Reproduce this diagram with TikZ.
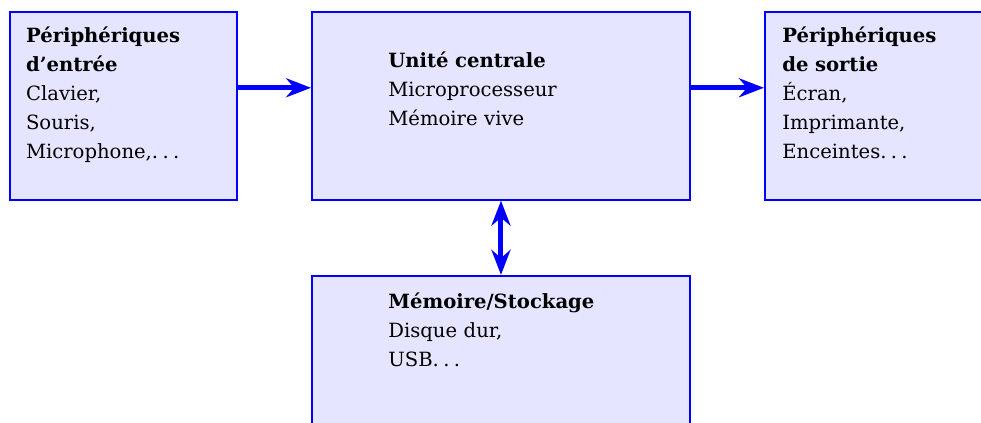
\documentclass[tikz,border=0pt]{standalone}
\usepackage{fontspec}
\setmainfont{DejaVu Serif}
\usetikzlibrary{arrows.meta}
\newcommand{\pointsusp}{.\kern0.22em.\kern0.22em.}

\begin{document}
\begin{tikzpicture}[>={Stealth[length=12.5pt,width=9.5pt]}]
  \tikzstyle{boite}=[rectangle, draw=blue, line width=1pt, fill=blue!10, minimum height=3.30cm, inner sep=0pt]
  \tikzstyle{texte}=[anchor=base west, inner sep=0pt, text width=4.5cm, align=left, font=\fontsize{9.8}{14.5}\selectfont]
  \tikzstyle{fleche}=[->, draw=blue, line width=2.5pt]

  \useasboundingbox (0,0) rectangle (17.24,7.43);

  \node[boite, minimum width=3.99cm] (entree) at (2.170,5.571) {};
  \node[boite, minimum width=6.64cm] (uc)     at (8.804,5.571) {};
  \node[boite, minimum width=3.99cm] (sortie) at (15.438,5.571) {};
  \node[boite, minimum width=6.64cm] (memoire) at (8.804,0.931) {};

  \node[texte] (tentree) at (0.451,6.678) {\textbf{Périphériques}\\ \textbf{d’entrée}\\ Clavier,\\ Souris,\\ Microphone,\pointsusp};
  \node[texte] (tuc) at (6.818,6.238) {\textbf{Unité centrale}\\ Microprocesseur\\ Mémoire vive};
  \node[texte] (tsortie) at (13.742,6.678) {\textbf{Périphériques}\\ \textbf{de sortie}\\ Écran,\\ Imprimante,\\ Enceintes\pointsusp};
  \node[texte] (tmemoire) at (6.818,2.003) {\textbf{Mémoire/Stockage}\\ Disque dur,\\ USB\pointsusp};

  \draw[fleche] ([yshift=0.316cm]entree.east) -- ([yshift=0.316cm]uc.west);
  \draw[fleche] ([yshift=0.316cm]uc.east) -- ([yshift=0.316cm]sortie.west);
  \draw[fleche, <->] (uc.south) -- (memoire.north);

\end{tikzpicture}
\end{document}
